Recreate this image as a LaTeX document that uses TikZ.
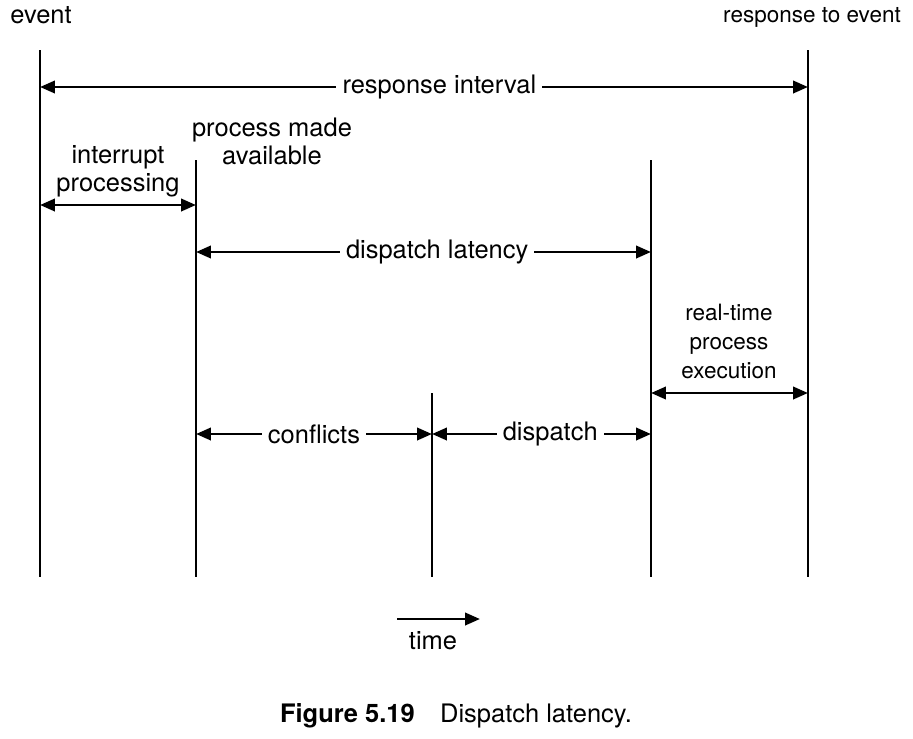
\documentclass[tikz,border=0pt]{standalone}
\usepackage{fontspec}
\setmainfont{TeX Gyre Heros}
\usetikzlibrary{arrows.meta}
\tikzset{
  span/.style={line width=1.6pt, {Triangle[length=8.5pt,width=7pt]}-{Triangle[length=8.5pt,width=7pt]}},
  gap/.style={fill=white, inner sep=3.5pt},
  lbl/.style={align=center, inner sep=0pt},
  small/.style={font=\fontsize{12.8}{16.5}\selectfont}
}

\begin{document}
\begin{tikzpicture}[x=0.02cm, y=-0.02cm, font=\fontsize{14.5}{16}\selectfont]
\useasboundingbox (0,0) rectangle (913,738);
\foreach \n/\x/\t in {ev/40/50, pm/196/160, cf/432/393, dl/651/160, re/808/50} {
  \coordinate (\n) at (\x,\t);
  \coordinate (\n bot) at (\x,577);
  \draw[line width=1.6pt] (\n) -- (\n bot);
}
\foreach \n/\y in {yri/87, yip/205, ydl/252, yrt/393, ycf/434}
  \coordinate (\n) at (0,\y);
\node[lbl] (event) at (41,15) {event};
\node[lbl, small] (response) at (812,17) {response to event};
\draw[span] (ev |- yri) -- node[gap, pos=0.52] (ri) {response interval} (re |- yri);
\node[lbl] (ip) at (118,171) {interrupt\\processing};
\draw[span] (ev |- yip) -- (pm |- yip);
\node[lbl] (pma) at (272,141) {process made\\available};
\draw[span] (pm |- ydl) -- node[gap, pos=0.53] (dlat) {dispatch latency} (dl |- ydl);
\node[lbl, small] (rt) at (729,341) {real-time\\process\\execution};
\draw[span] (dl |- yrt) -- (re |- yrt);
\draw[span] (pm |- ycf) -- node[gap] (conf) {conflicts} (cf |- ycf);
\draw[span] (cf |- ycf) -- node[gap, pos=0.54] (disp) {dispatch} (dl |- ycf);
\coordinate (t0) at (397,619);
\coordinate (t1) at (480,619);
\draw[line width=1.6pt, -{Triangle[length=8.5pt,width=7pt]}] (t0) -- (t1);
\node[lbl] (time) at (433,641) {time};
\node[lbl] (caption) at (456,716) {{\bfseries Figure 5.19}\quad Dispatch latency.};
\end{tikzpicture}
\end{document}
